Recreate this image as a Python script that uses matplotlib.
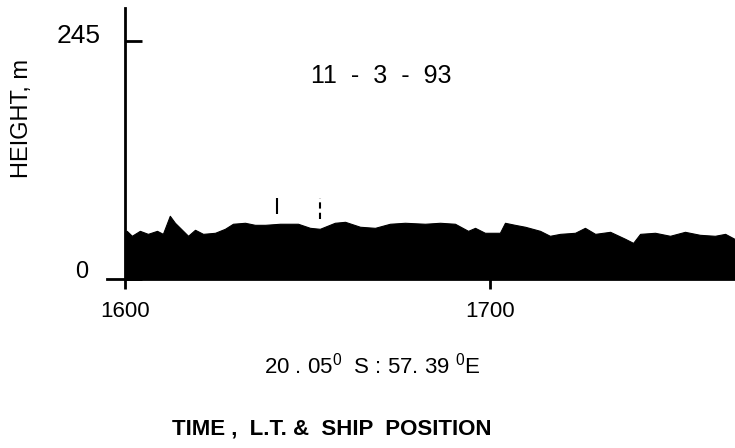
import matplotlib
matplotlib.use("Agg")
import matplotlib.pyplot as plt

# Sodar echo height record, 11-3-93 (time in local hours*100 + minutes)
time_lt = [1600.0, 1600.5, 1601.9, 1604.1, 1606.3, 1608.8, 1610.4, 1612.3, 1613.7, 1615.1,
           1617.3, 1619.2, 1621.4, 1624.7, 1627.4, 1629.6, 1632.9, 1635.6, 1638.4, 1642.5,
           1647.4, 1650.7, 1653.4, 1657.5, 1660.3, 1664.4, 1668.5, 1672.6, 1676.7, 1682.2,
           1686.3, 1690.4, 1694.0, 1695.9, 1698.6, 1702.7, 1704.1, 1706.8, 1709.6, 1713.7,
           1716.4, 1719.2, 1723.3, 1726.0, 1728.8, 1732.9, 1737.0, 1739.2, 1741.1, 1745.2,
           1749.3, 1753.4, 1757.5, 1761.6, 1764.4, 1767.5]
height_m = [48, 49.6, 44.5, 49.6, 46.5, 49.6, 46.5, 65.1, 57.9, 52.7,
            44.5, 50.7, 46.5, 47.6, 51.7, 56.9, 57.9, 55.8, 55.8, 56.9,
            56.9, 52.7, 51.7, 57.9, 58.9, 53.8, 52.7, 56.9, 57.9, 56.9,
            57.9, 56.9, 49.6, 52.7, 47.6, 47.6, 57.9, 55.8, 53.8, 49.6,
            44.5, 46.5, 47.6, 52.7, 46.5, 48.6, 41.4, 37.2, 46.5, 47.6,
            44.5, 48.6, 45.5, 44.5, 46.5, 40.3]

# event marks above the echo layer: time, bottom, top
mark_solid = [1641.6, 67, 83]
mark_dashed = [1653.4, 62, 83]

ytick_vals = [0, 245]
xtick_vals = [1600, 1700]
xtick_labels = ["1600", "1700"]

plt.rcParams["font.family"] = ["Liberation Sans", "DejaVu Sans"]
plt.rcParams["mathtext.default"] = "regular"

fig = plt.figure(figsize=(7.35, 4.48), dpi=100)
ax = fig.add_axes([0.1456, 0.3772, 0.8544, 0.6048])

ax.fill_between(time_lt, 0, height_m, color="black", linewidth=0.8, edgecolor="black")
ax.vlines(mark_solid[0], mark_solid[1], mark_solid[2], color="black", linewidth=1.5)
ax.vlines(mark_dashed[0], mark_dashed[1], mark_dashed[2], color="black",
          linewidth=1.5, linestyles=(0, (3, 2)))

ax.set_xlim(1595.1, 1767.1)
ax.set_ylim(0, 279)

for side in ["top", "right"]:
    ax.spines[side].set_visible(False)
ax.spines["left"].set_position(("data", 1600))
ax.spines["left"].set_linewidth(2)
ax.spines["bottom"].set_linewidth(2)

ax.set_yticks(ytick_vals)
ax.set_yticklabels([])
ax.tick_params(axis="y", direction="in", length=12, width=2)
ax.set_xticks(xtick_vals)
ax.set_xticklabels(xtick_labels)
ax.tick_params(axis="x", direction="out", length=7, width=2, pad=9, labelsize=16)

# y labels sit well left of the axis line
fig.text(79 / 735, 1 - 36 / 448, "245", fontsize=19, ha="center", va="center")
fig.text(82 / 735, 1 - 272 / 448, "0", fontsize=17, ha="center", va="center")
fig.text(22 / 735, 1 - 119 / 448, "HEIGHT, m", fontsize=17, rotation=90,
         ha="center", va="center")

fig.text(381 / 735, 1 - 76 / 448, "11  -  3  -  93", fontsize=18, ha="center", va="center")
fig.text(372 / 735, 1 - 366 / 448, r"20 . 05$^{0}$  S : 57. 39 $^{0}$E", fontsize=16,
         ha="center", va="center")
fig.text(332 / 735, 1 - 429 / 448, "TIME ,  L.T. &  SHIP  POSITION", fontsize=16,
         fontweight="bold", ha="center", va="center")

fig.savefig("out.png", dpi=100)
